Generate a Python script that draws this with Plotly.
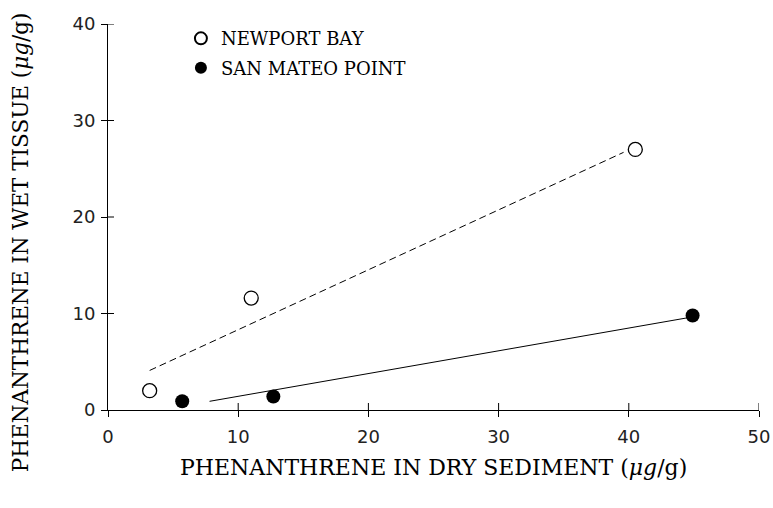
import plotly.graph_objects as go

# Data
newport_x = [3.2, 11.0, 40.5]
newport_y = [2.0, 11.6, 27.0]
sanmateo_x = [5.7, 12.7, 44.9]
sanmateo_y = [0.9, 1.4, 9.8]
# fitted lines (end points as drawn)
newport_fit_x = [3.2, 39.6]
newport_fit_y = [4.1, 26.7]
sanmateo_fit_x = [7.8, 44.7]
sanmateo_fit_y = [0.9, 9.6]

x_ticks = [0, 10, 20, 30, 40, 50]
y_ticks = [0, 10, 20, 30, 40]

W, H = 773, 508
L, R, T, B = 108, 14, 24, 98

serif = "DejaVu Serif"
sans = "DejaVu Sans"

fig = go.Figure()
fig.add_trace(go.Scatter(x=newport_fit_x, y=newport_fit_y, mode="lines",
                         line=dict(color="black", width=1, dash="7px,4px"),
                         showlegend=False, hoverinfo="skip"))
fig.add_trace(go.Scatter(x=sanmateo_fit_x, y=sanmateo_fit_y, mode="lines",
                         line=dict(color="black", width=1),
                         showlegend=False, hoverinfo="skip"))
fig.add_trace(go.Scatter(x=newport_x, y=newport_y, mode="markers", name="NEWPORT BAY",
                         legendgroup="a",
                         marker=dict(symbol="circle-open", size=14, color="black",
                                     line=dict(width=1.3, color="black")),
                         cliponaxis=False))
fig.add_trace(go.Scatter(x=sanmateo_x, y=sanmateo_y, mode="markers", name="SAN MATEO POINT",
                         legendgroup="b",
                         marker=dict(symbol="circle", size=14, color="black"),
                         cliponaxis=False))

# inner half of the crossing tick marks (the outer half is the axis' own ticks)
shapes = []
for xv in x_ticks[1:]:
    shapes.append(dict(type="line", xref="x", yref="y", ysizemode="pixel", yanchor=0,
                       x0=xv, x1=xv, y0=0, y1=7, line=dict(color="black", width=1)))
for yv in y_ticks[1:]:
    shapes.append(dict(type="line", xref="x", yref="y", xsizemode="pixel", xanchor=0,
                       y0=yv, y1=yv, x0=0, x1=6, line=dict(color="black", width=1)))

common_axis = dict(showgrid=False, zeroline=False, automargin=False)
fig.update_layout(
    width=W, height=H,
    margin=dict(l=L, r=R, t=T, b=B),
    paper_bgcolor="white", plot_bgcolor="white",
    font=dict(family=serif, color="black", size=16),
    xaxis=dict(range=[0, 50], tickvals=x_ticks, ticks="outside", ticklen=6,
               tickcolor="black", showline=True, linecolor="black", linewidth=1,
               ticklabelstandoff=4,
               tickfont=dict(family=sans, size=18, color="#222"), **common_axis),
    yaxis=dict(range=[0, 40], tickvals=y_ticks, ticks="outside", ticklen=6,
               tickcolor="black", showline=True, linecolor="black", linewidth=1,
               ticklabelstandoff=2,
               tickfont=dict(family=sans, size=18, color="#222"), **common_axis),
    shapes=shapes,
    showlegend=True,
    legend=dict(x=0.112, y=1.01, xanchor="left", yanchor="top",
                bgcolor="rgba(0,0,0,0)", font=dict(family=serif, size=18),
                itemsizing="constant", tracegroupgap=3),
    annotations=[
        dict(text="PHENANTHRENE IN DRY SEDIMENT (<i>μg</i>/g)", xref="paper", yref="paper",
             x=0.5, y=-0.148, xanchor="center", yanchor="middle", showarrow=False,
             font=dict(family=serif, size=22)),
        dict(text="PHENANTHRENE IN WET TISSUE (<i>μg</i>/g)", xref="paper", yref="paper",
             x=-0.135, y=0.435, xanchor="center", yanchor="middle", showarrow=False,
             textangle=-90, font=dict(family=serif, size=21.5)),
    ],
)

fig.write_html(
    "out.html",
    config={"displayModeBar": False},
    post_script="document.body.style.margin='0';document.body.style.overflow='hidden';",
)
